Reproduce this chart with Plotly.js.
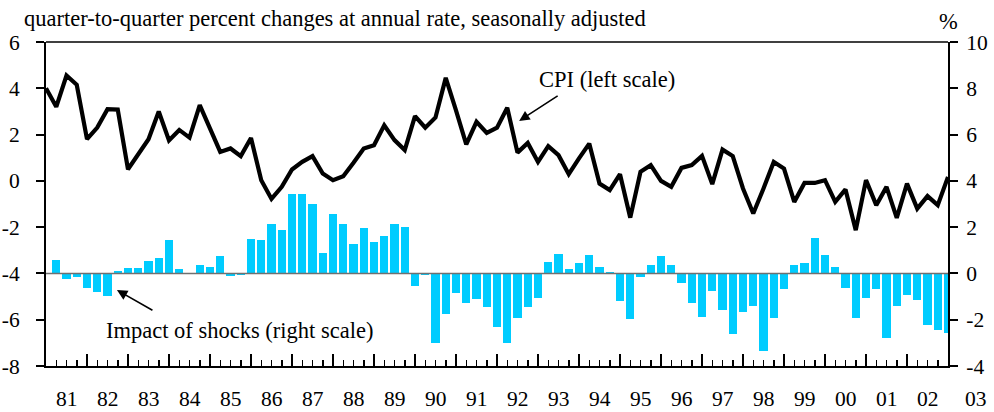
<!DOCTYPE html>
<html>
<head>
<meta charset="utf-8">
<script src="https://cdn.plot.ly/plotly-3.0.1.min.js"></script>
<style>html,body{margin:0;padding:0;background:#fff;}#chart{width:994px;height:412px;}</style>
</head>
<body>
<div id="chart"></div>
<script>
// Quarterly observations, 1981 Q1 .. 2003 Q1
var startYear = 1981;
var cpi = [
  4.0, 3.2, 4.55, 4.15, 1.8, 2.3, 3.1, 3.08, 0.5, 1.15, 1.8, 3.0, 1.75, 2.2, 1.87, 3.27, 2.25, 1.25, 1.4, 1.07, 1.85, 0.03, -0.78,
  -0.26, 0.49, 0.82, 1.07, 0.32, 0.03, 0.2, 0.78, 1.4, 1.54, 2.4, 1.76, 1.33, 2.8, 2.3, 2.74, 4.45, 3.05, 1.58, 2.55, 2.07,
  2.3, 3.16, 1.22, 1.64, 0.82, 1.5, 1.11, 0.29, 0.97, 1.61, -0.12, -0.4, 0.29, -1.59, 0.39, 0.68, 0.0, -0.26, 0.56, 0.68, 1.08, -0.14,
  1.35, 1.07, -0.33, -1.41, -0.33, 0.82, 0.53, -0.91, -0.09, -0.09, 0.03, -0.91, -0.37, -2.13, 0.03, -1.05, -0.26, -1.6, -0.12, -1.2, -0.66, -1.05, 0.17
];
var shocks = [
  null,
  0.58, -0.23, -0.14, -0.62, -0.79, -0.97, 0.1, 0.23, 0.23, 0.55, 0.68, 1.44, 0.19, -0.02, 0.36, 0.27, 0.75, -0.1, -0.06, 1.48, 1.44, 2.13,
  1.87, 3.43, 3.43, 3.0, 0.89, 2.56, 2.13, 1.27, 1.96, 1.35, 1.61, 2.13, 2.0, -0.53, -0.07, -3.0, -1.76, -0.84, -1.27, -1.1, -1.44, -2.3,
  -3.0, -1.92, -1.44, -1.05, 0.49, 0.84, 0.19, 0.46, 0.79, 0.27, 0.06, -1.18, -1.96, -0.16, 0.36, 0.75, 0.36, -0.4, -1.27, -1.88, -0.75, -1.56,
  -2.62, -1.66, -1.4, -3.34, -1.92, -0.69, 0.36, 0.46, 1.54, 0.79, 0.29, -0.62, -1.92, -1.05, -0.66, -2.78, -1.4, -0.92, -1.14, -2.22, -2.44, -2.56
];
var years = [1981,1982,1983,1984,1985,1986,1987,1988,1989,1990,1991,1992,1993,1994,1995,1996,1997,1998,1999,2000,2001,2002,2003];
var yearLabels = ['81','82','83','84','85','86','87','88','89','90','91','92','93','94','95','96','97','98','99','00','01','02','03'];
var leftTickVals = [-8, -6, -4, -2, 0, 2, 4, 6];
var leftTickText = ['-8', '-6', '-4', '-2', '0', '2', '4', '6'];
var rightTickVals = [-4, -2, 0, 2, 4, 6, 8, 10];
var rightTickText = ['-4', '-2', '0', '2', '4', '6', '8', '10'];

var titleText = 'quarter-to-quarter percent changes at annual rate, seasonally adjusted';
var cpiLabel = 'CPI (left scale)';
var shockLabel = 'Impact of shocks (right scale)';
var unitLabel = '%';

var xq = cpi.map(function(_, i){ return startYear + i / 4; });

var FONT = 'Liberation Serif, Times New Roman, serif';
var fnt = {family: FONT, size: 22.5, color: '#000'};
var tickFnt = {family: FONT, size: 21.5, color: '#000'};

var traces = [
  {
    type: 'bar', x: xq, y: shocks, yaxis: 'y2', width: 0.2,
    marker: {color: '#00CCFF', line: {width: 0}}, hoverinfo: 'skip'
  },
  {
    type: 'scatter', mode: 'lines', x: xq, y: cpi, yaxis: 'y',
    line: {color: '#000', width: 4.2}, hoverinfo: 'skip'
  }
];

var annotations = [];
// year labels at mid-year
years.forEach(function(y, k){
  if (y < 2003) {
    annotations.push({xref: 'x', yref: 'paper', x: y + 0.5, y: -0.103, text: yearLabels[k],
      showarrow: false, xanchor: 'center', yanchor: 'middle', font: tickFnt});
  } else {
    annotations.push({xref: 'paper', yref: 'paper', x: 1.031, y: -0.103, text: yearLabels[k],
      showarrow: false, xanchor: 'center', yanchor: 'middle', font: tickFnt});
  }
});
annotations.push(
  {xref: 'paper', yref: 'paper', x: -0.0266, y: 1.074, text: titleText, showarrow: false,
   xanchor: 'left', yanchor: 'middle', font: fnt},
  {xref: 'paper', yref: 'paper', x: 1.0, y: 1.064, text: unitLabel, showarrow: false,
   xanchor: 'center', yanchor: 'middle', font: fnt},
  {xref: 'paper', yref: 'paper', x: 0.622, y: 0.883, text: cpiLabel, showarrow: false,
   xanchor: 'center', yanchor: 'middle', font: fnt},
  {xref: 'paper', yref: 'paper', x: 0.215, y: 0.111, text: shockLabel, showarrow: false,
   xanchor: 'center', yanchor: 'middle', font: fnt},
  {xref: 'x', yref: 'y', x: 1992.54, y: 2.59, text: '', showarrow: true, ax: 40, ay: -26,
   arrowhead: 2, arrowsize: 1.3, arrowwidth: 1.6, arrowcolor: '#000', standoff: 0, startstandoff: 0},
  {xref: 'x', yref: 'y', x: 1982.73, y: -4.72, text: '', showarrow: true, ax: 37, ay: 21,
   arrowhead: 2, arrowsize: 1.3, arrowwidth: 1.6, arrowcolor: '#000', standoff: 0, startstandoff: 0}
);

var yAxisCommon = {
  showline: true, linecolor: '#000', linewidth: 2,
  ticks: 'outside', ticklen: 8, tickwidth: 2, tickcolor: '#000',
  showgrid: false, zeroline: false, tickfont: tickFnt, tickmode: 'array'
};

var layout = {
  width: 994, height: 412,
  margin: {l: 46, r: 46, t: 42, b: 46, pad: 0},
  paper_bgcolor: '#fff', plot_bgcolor: '#fff',
  showlegend: false,
  bargap: 0,
  xaxis: {
    range: [1981, 2003], showline: true, linecolor: '#000', linewidth: 2,
    tickmode: 'array', tickvals: years, ticks: 'inside', ticklen: 12, tickwidth: 1.5, tickcolor: '#000',
    showticklabels: false, showgrid: false, zeroline: false,
    minor: {tickmode: 'linear', tick0: 1981, dtick: 0.25, ticks: 'inside', ticklen: 6, tickwidth: 1.5, tickcolor: '#000', showgrid: false}
  },
  yaxis: Object.assign({}, yAxisCommon, {range: [-8, 6], tickvals: leftTickVals, ticktext: leftTickText, side: 'left', ticklabelstandoff: 12}),
  yaxis2: Object.assign({}, yAxisCommon, {range: [-4, 10], tickvals: rightTickVals, ticktext: rightTickText, side: 'right', overlaying: 'y', ticklabelstandoff: 4}),
  shapes: [
    {type: 'line', xref: 'paper', yref: 'paper', x0: 0, x1: 1, y0: 1, y1: 1, line: {color: '#000', width: 1.5}},
    {type: 'line', xref: 'paper', yref: 'y2', x0: 0, x1: 1, y0: 0, y1: 0, layer: 'above', line: {color: '#707070', width: 1.5}}
  ],
  annotations: annotations
};

Plotly.newPlot('chart', traces, layout, {displayModeBar: false, staticPlot: true});
</script>
</body>
</html>
